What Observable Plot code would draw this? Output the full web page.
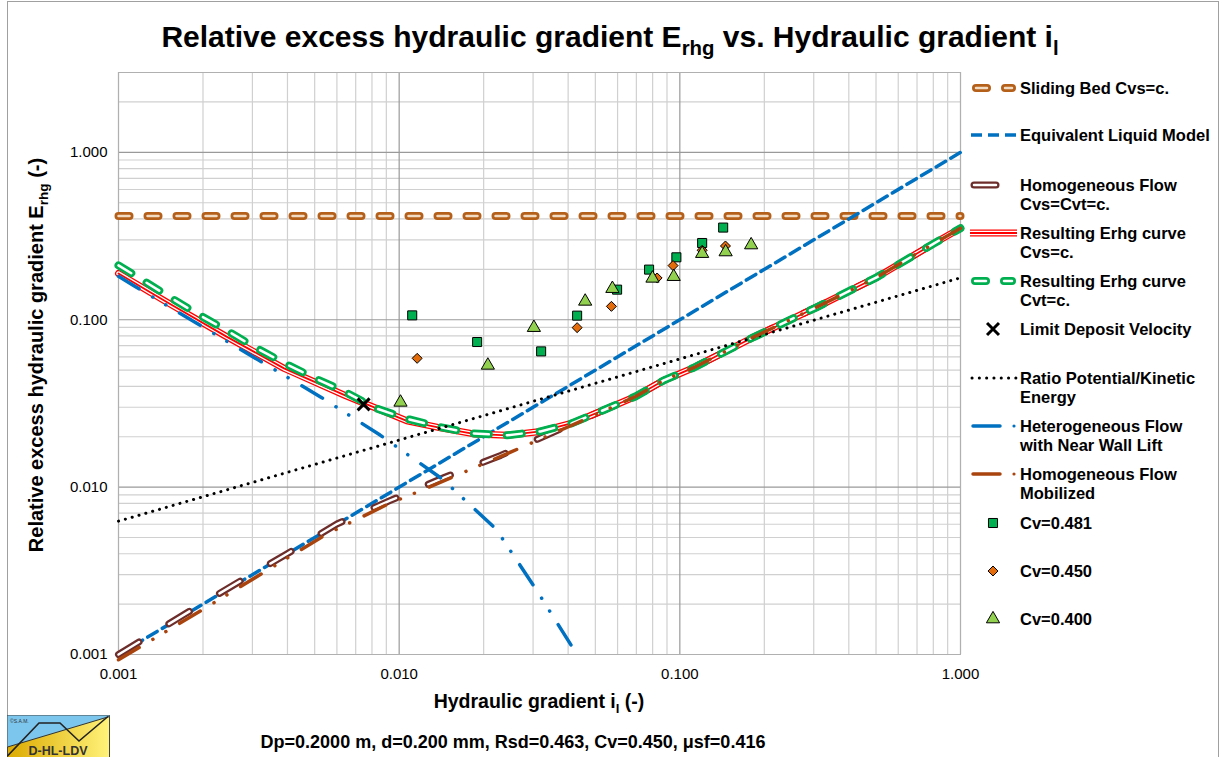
<!DOCTYPE html>
<html><head><meta charset="utf-8">
<script src="https://cdn.jsdelivr.net/npm/d3@7"></script>
<script src="https://cdn.jsdelivr.net/npm/@observablehq/plot@0.6"></script>
<style>
body{margin:0;background:#fff;font-family:"Liberation Sans",Arial,sans-serif;}
#wrap{position:relative;width:1220px;height:757px;overflow:hidden;background:#fff;}
#frame{position:absolute;left:7px;top:1px;width:1210px;height:800px;border:1px solid #a0a0a0;}
.t{position:absolute;font-weight:bold;color:#000;white-space:nowrap;}
sub{font-size:0.68em;vertical-align:-0.38em;line-height:0;}
</style></head><body>
<div id="wrap">
<div id="frame"></div>
<div id="chart" style="position:absolute;left:0;top:0"></div>
<div class="t" style="left:610px;top:37px;font-size:30px;transform:translate(-50%,-50%);">Relative excess hydraulic gradient E<sub>rhg</sub> vs. Hydraulic gradient i<sub>l</sub></div>
<div class="t" style="left:36px;top:355px;font-size:20px;transform:translate(-50%,-50%) rotate(-90deg);">Relative excess hydraulic gradient E<sub>rhg</sub> (-)</div>
<div class="t" style="left:539px;top:701px;font-size:19.5px;transform:translate(-50%,-50%);">Hydraulic gradient i<sub>l</sub> (-)</div>
<div class="t" style="left:513px;top:742px;font-size:18px;transform:translate(-50%,-50%);">Dp=0.2000 m, d=0.200 mm, Rsd=0.463, Cv=0.450, μsf=0.416</div>
<svg id="logo" style="position:absolute;left:7px;top:715px" width="103" height="44"></svg>
<svg id="legend" style="position:absolute;left:960px;top:60px" width="260" height="600"></svg>
</div>
<script>
// ---------- data ----------
const xTicks = [0.001, 0.01, 0.1, 1];
const yTicks = [0.001, 0.01, 0.1, 1];
const decades = [0.001, 0.01, 0.1, 1];
const minorMult = [2, 3, 4, 5, 6, 7, 8, 9];

// Sliding Bed Cvs=c.
const slidIl = [0.001, 1];
const slidE = [0.416, 0.416];
// Equivalent Liquid Model
const eqlIl = [0.001, 1];
const eqlE = [0.001, 1];
// Homogeneous Flow Cvs=Cvt=c.
const homIl = [0.001, 0.00173, 0.00261, 0.00399, 0.00602, 0.00931, 0.0146, 0.0230, 0.0355, 0.0539, 0.0695, 0.0876, 0.112, 0.183, 0.308, 0.505, 0.803, 1.0];
const homE  = [0.001, 0.00175, 0.00264, 0.0040, 0.00604, 0.00833, 0.01148, 0.01547, 0.02132, 0.0290, 0.0348, 0.0434, 0.0517, 0.0788, 0.1191, 0.1799, 0.2851, 0.352];
// Resulting Erhg curve Cvs=c.
const resSIl = [0.001, 0.00149, 0.0024, 0.00389, 0.00642, 0.01064, 0.01403, 0.01845, 0.02425, 0.03187, 0.04133, 0.05388, 0.06948, 0.08763, 0.112, 0.1834, 0.3084, 0.5045, 0.8027, 1.0];
const resSE  = [0.189, 0.1271, 0.0801, 0.0512, 0.0353, 0.0249, 0.0226, 0.0208, 0.0204, 0.0215, 0.0241, 0.0290, 0.0348, 0.0434, 0.0517, 0.0788, 0.1191, 0.1799, 0.2851, 0.352];
// Resulting Erhg curve Cvt=c.
const resTIl = [0.001, 0.001178, 0.001486, 0.001886, 0.0024, 0.003051, 0.003893, 0.004993, 0.006422, 0.008214, 0.01064, 0.01403, 0.01845, 0.02425, 0.03187, 0.04133, 0.05388, 0.06948, 0.08763, 0.112, 0.1834, 0.3084, 0.5045, 0.8027, 1.0];
const resTE  = [0.2113, 0.1785, 0.1399, 0.1096, 0.0873, 0.0687, 0.0551, 0.0448, 0.0370, 0.0297, 0.0256, 0.0228, 0.0209, 0.0204, 0.0215, 0.0241, 0.0290, 0.0348, 0.0434, 0.0517, 0.0788, 0.1191, 0.1799, 0.2851, 0.352];
// Limit Deposit Velocity
const ldvIl = [0.00747];
const ldvE = [0.0312];
// Ratio Potential/Kinetic Energy
const ratIl = [0.001, 1];
const ratE = [0.00626, 0.178];
// Heterogeneous Flow with Near Wall Lift
const hetIl = [0.001, 0.001131, 0.0019, 0.003153, 0.0053, 0.00855, 0.0143, 0.02215, 0.03076, 0.04154, 0.0436];
const hetE  = [0.1817, 0.160, 0.0952, 0.0574, 0.03423, 0.02046, 0.01112, 0.00561, 0.002446, 0.001096, 0.00099];
// Homogeneous Flow Mobilized
const mobIl = [0.001, 0.00196, 0.00547, 0.00918, 0.01159, 0.0163, 0.0267, 0.0487, 0.0695, 0.0876, 0.112, 0.183, 0.308, 0.505, 0.803, 1.0];
const mobE  = [0.00093, 0.00182, 0.0052, 0.00796, 0.00933, 0.0119, 0.0170, 0.0265, 0.0348, 0.0434, 0.0517, 0.0788, 0.1191, 0.1799, 0.2851, 0.352];
// Measurements
const cv481Il = [0.01113, 0.01896, 0.03205, 0.04306, 0.05977, 0.0777, 0.0972, 0.1201, 0.1427];
const cv481E  = [0.1062, 0.0736, 0.0647, 0.1058, 0.1513, 0.1993, 0.236, 0.2874, 0.3553];
const cv450Il = [0.01159, 0.04306, 0.05705, 0.0830, 0.0946, 0.1201, 0.1454];
const cv450E  = [0.0588, 0.0897, 0.1202, 0.1776, 0.2106, 0.260, 0.2758];
const cv400Il = [0.01011, 0.0207, 0.0302, 0.0460, 0.0575, 0.0799, 0.0951, 0.1201, 0.1456, 0.1795];
const cv400E  = [0.0321, 0.0534, 0.0897, 0.1288, 0.1534, 0.1768, 0.1809, 0.2484, 0.2540, 0.2796];

// ---------- styles ----------
const C = {
  slid: "#b5601a", slidIn: "#f3dcc4", eql: "#0070c0", hom: "#6d2d2a", red: "#ff0000",
  green: "#00b050", het: "#0070c0", mob: "#a9440f", sq: "#00b050", dia: "#e46c0a", tri: "#92d050"
};
const DDD = "24,16,0.1,15,0.1,16";
const pts = (xs, ys) => xs.map((x, i) => ({x, y: ys[i]}));
const minor = decades.flatMap(d => minorMult.map(m => d * m));
const minorX = minor.filter(v => v > 0.001 && v < 1);
const minorY = minor.filter(v => v > 0.001 && v <= 3);
const fmt = d3.format(".3f");
const FONT = "'Liberation Sans', Arial, sans-serif";

const L = (data, o) => Plot.line(data, {x: "x", y: "y", ...o});

const chart = Plot.plot({
  width: 1220, height: 757,
  marginLeft: 118, marginRight: 260, marginTop: 72, marginBottom: 103,
  x: {type: "log", domain: [0.001, 1]},
  y: {type: "log", domain: [0.001, 3]},
  style: {fontFamily: FONT, fontSize: "15px", color: "#000", background: "transparent"},
  marks: [
    Plot.ruleX(minorX, {stroke: "#d0d0d0", strokeWidth: 1.2}),
    Plot.ruleY(minorY, {stroke: "#d0d0d0", strokeWidth: 1.2}),
    Plot.ruleX(xTicks, {stroke: "#9a9a9a", strokeWidth: 1.2}),
    Plot.ruleY(yTicks, {stroke: "#9a9a9a", strokeWidth: 1.2}),
    Plot.frame({stroke: "#b0b0b0"}),
    Plot.axisX({ticks: xTicks, tickFormat: fmt, tickSize: 0, tickPadding: 14, label: null, fontSize: 15}),
    Plot.axisY({ticks: yTicks, tickFormat: fmt, tickSize: 0, tickPadding: 11, label: null, fontSize: 15}),
    // Sliding bed
    L(pts(slidIl, slidE), {stroke: C.slid, strokeWidth: 8, strokeDasharray: "11,18", strokeLinecap: "round"}),
    L(pts(slidIl, slidE), {stroke: C.slidIn, strokeWidth: 2.5, strokeDasharray: "11,18", strokeLinecap: "round"}),
    // Equivalent liquid
    L(pts(eqlIl, eqlE), {stroke: C.eql, strokeWidth: 3.5, strokeDasharray: "11,6"}),
    // Homogeneous Cvs=Cvt=c
    L(pts(homIl, homE), {stroke: C.hom, strokeWidth: 7, strokeDasharray: "24,35", strokeLinecap: "round"}),
    L(pts(homIl, homE), {stroke: "#fff", strokeWidth: 2.5, strokeDasharray: "24,35", strokeLinecap: "round"}),
    // Resulting Cvs=c
    L(pts(resSIl, resSE), {stroke: C.red, strokeWidth: 7}),
    L(pts(resSIl, resSE), {stroke: "#fff", strokeWidth: 4.4}),
    L(pts(resSIl, resSE), {stroke: C.red, strokeWidth: 1.8}),
    // Resulting Cvt=c
    L(pts(resTIl, resTE), {stroke: C.green, strokeWidth: 8, strokeDasharray: "15,18", strokeLinecap: "round"}),
    L(pts(resTIl, resTE), {stroke: "#fff", strokeWidth: 2.5, strokeDasharray: "15,18", strokeLinecap: "round"}),
    // LDV
    Plot.dot(pts(ldvIl, ldvE), {x: "x", y: "y", symbol: "times", r: 5.5, stroke: "#000", strokeWidth: 3}),
    // Ratio potential/kinetic
    L(pts(ratIl, ratE), {stroke: "#000", strokeWidth: 3, strokeDasharray: "0.1,7", strokeLinecap: "round"}),
    // Heterogeneous near wall lift
    L(pts(hetIl, hetE), {stroke: C.het, strokeWidth: 3.5, strokeDasharray: DDD, strokeLinecap: "round"}),
    // Homogeneous mobilized
    L(pts(mobIl, mobE), {stroke: C.mob, strokeWidth: 3.5, strokeDasharray: DDD, strokeLinecap: "round"}),
    // Measurements
    Plot.dot(pts(cv481Il, cv481E), {x: "x", y: "y", symbol: "square", r: 5.1, fill: C.sq, stroke: "#000", strokeWidth: 1}),
    Plot.dot(pts(cv450Il, cv450E), {x: "x", y: "y", symbol: "diamond2", r: 4.5, fill: C.dia, stroke: "#000", strokeWidth: 1}),
    Plot.dot(pts(cv400Il, cv400E), {x: "x", y: "y", symbol: "triangle", r: 4.9, fill: C.tri, stroke: "#000", strokeWidth: 1})
  ]
});
document.getElementById("chart").appendChild(chart);

// ---------- legend ----------
const lg = d3.select("#legend");
const oy = 60, ox = 960;
function seg(x1, x2, y, st) {
  lg.append("line").attr("x1", x1 - ox).attr("x2", x2 - ox).attr("y1", y - oy).attr("y2", y - oy)
    .attr("stroke", st.stroke).attr("stroke-width", st.w).attr("stroke-dasharray", st.dash || null)
    .attr("stroke-linecap", st.cap || "butt");
}
function txt(lines, y) {
  const t = lg.append("text").attr("x", 1020 - ox).attr("y", y - oy).attr("font-size", 16.5).attr("font-weight", "bold")
    .attr("font-family", FONT);
  lines.forEach((s, i) => t.append("tspan").attr("x", 1020 - ox).attr("dy", i === 0 ? "0.36em" : "19.5").text(s));
}
function sym(type, size, x, y, fill, stroke, sw) {
  lg.append("path").attr("d", d3.symbol(type, size)()).attr("transform", `translate(${x - ox},${y - oy})`)
    .attr("fill", fill).attr("stroke", stroke).attr("stroke-width", sw);
}
// Sliding Bed
seg(976, 1012, 88, {stroke: C.slid, w: 8, dash: "11,18", cap: "round"});
seg(976, 1012, 88, {stroke: C.slidIn, w: 2.5, dash: "11,18", cap: "round"});
txt(["Sliding Bed Cvs=c."], 88);
seg(971, 1016, 135, {stroke: C.eql, w: 3.5, dash: "11,6"});
txt(["Equivalent Liquid Model"], 135);
seg(974, 996, 185, {stroke: C.hom, w: 7, cap: "round"});
seg(974, 996, 185, {stroke: "#fff", w: 2.5, cap: "round"});
txt(["Homogeneous Flow", "Cvs=Cvt=c."], 185);
seg(970, 1017, 233, {stroke: C.red, w: 7});
seg(970, 1017, 233, {stroke: "#fff", w: 4.4});
seg(970, 1017, 233, {stroke: C.red, w: 1.8});
txt(["Resulting Erhg curve", "Cvs=c."], 233);
seg(975, 1012, 281, {stroke: C.green, w: 8, dash: "11,18", cap: "round"});
seg(975, 1012, 281, {stroke: "#fff", w: 2.5, dash: "11,18", cap: "round"});
txt(["Resulting Erhg curve", "Cvt=c."], 281);
sym(d3.symbolTimes, 95, 993, 329, "none", "#000", 3);
txt(["Limit Deposit Velocity"], 329);
seg(972, 1016, 378, {stroke: "#000", w: 3, dash: "0.1,7.2", cap: "round"});
txt(["Ratio Potential/Kinetic", "Energy"], 378);
seg(973, 1000, 426, {stroke: C.het, w: 3.5, cap: "round"});
sym(d3.symbolCircle, 8, 1014, 426, C.het, "none", 0);
txt(["Heterogeneous Flow", "with Near Wall Lift"], 426);
seg(973, 1000, 474, {stroke: C.mob, w: 3.5, cap: "round"});
sym(d3.symbolCircle, 8, 1014, 474, C.mob, "none", 0);
txt(["Homogeneous Flow", "Mobilized"], 474);
sym(d3.symbolSquare, 5.1 * 5.1 * Math.PI, 993, 523, C.sq, "#000", 1);
txt(["Cv=0.481"], 523);
sym(d3.symbolDiamond2, 4.5 * 4.5 * Math.PI, 993, 571, C.dia, "#000", 1);
txt(["Cv=0.450"], 571);
sym(d3.symbolTriangle, 4.9 * 4.9 * Math.PI, 993, 619, C.tri, "#000", 1);
txt(["Cv=0.400"], 619);

// ---------- logo ----------
document.getElementById("logo").innerHTML = `
<defs><linearGradient id="yg" x1="0" x2="1" y1="0" y2="0">
<stop offset="0" stop-color="#dcaa00"/><stop offset="1" stop-color="#fff27a"/></linearGradient></defs>
<rect x="0.5" y="0.5" width="102" height="44" fill="url(#yg)" stroke="#444"/>
<polygon points="0.5,0.5 102.5,0.5 102.5,1.5 0.5,32" fill="#7cc6ee"/>
<line x1="0.5" y1="32" x2="102.5" y2="1.5" stroke="#333" stroke-width="1"/>
<path d="M0.5,41 L32,8 L53,8 L72,26 L101,1.5" fill="none" stroke="#222" stroke-width="1.6"/>
<text x="51" y="40" text-anchor="middle" font-size="12.5" font-weight="bold" fill="#333" font-family="'Liberation Sans', Arial">D-HL-LDV</text>
<text x="3" y="8" font-size="5" fill="#333" font-family="'Liberation Sans', Arial">©S.A.M.</text>`;
</script>
</body></html>
